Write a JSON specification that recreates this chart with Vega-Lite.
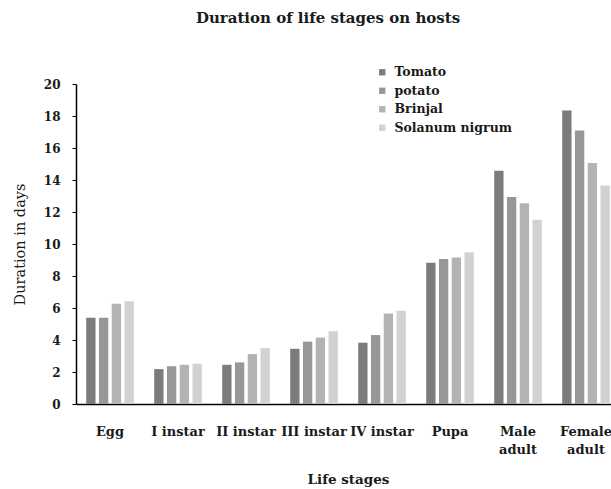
{
  "$schema": "https://vega.github.io/schema/vega-lite/v6.json",
  "autosize": "none",
  "width": 544,
  "height": 320,
  "padding": {"left": 76, "top": 84, "right": 0, "bottom": 85},
  "background": "white",
  "title": {
    "text": "Duration of life stages on hosts",
    "font": "DejaVu Serif",
    "fontSize": 15,
    "fontWeight": "bold",
    "color": "#1a1a1a",
    "anchor": "middle",
    "dx": -20,
    "offset": 40
  },
  "data": {
    "values": [
      {"stage": "Egg", "host": "Tomato", "days": 5.39},
      {"stage": "Egg", "host": "potato", "days": 5.39},
      {"stage": "Egg", "host": "Brinjal", "days": 6.26},
      {"stage": "Egg", "host": "Solanum nigrum", "days": 6.42},
      {"stage": "I instar", "host": "Tomato", "days": 2.18},
      {"stage": "I instar", "host": "potato", "days": 2.36},
      {"stage": "I instar", "host": "Brinjal", "days": 2.45},
      {"stage": "I instar", "host": "Solanum nigrum", "days": 2.52},
      {"stage": "II instar", "host": "Tomato", "days": 2.45},
      {"stage": "II instar", "host": "potato", "days": 2.6},
      {"stage": "II instar", "host": "Brinjal", "days": 3.12},
      {"stage": "II instar", "host": "Solanum nigrum", "days": 3.49},
      {"stage": "III instar", "host": "Tomato", "days": 3.45},
      {"stage": "III instar", "host": "potato", "days": 3.9},
      {"stage": "III instar", "host": "Brinjal", "days": 4.15},
      {"stage": "III instar", "host": "Solanum nigrum", "days": 4.55},
      {"stage": "IV instar", "host": "Tomato", "days": 3.83},
      {"stage": "IV instar", "host": "potato", "days": 4.31},
      {"stage": "IV instar", "host": "Brinjal", "days": 5.65},
      {"stage": "IV instar", "host": "Solanum nigrum", "days": 5.83},
      {"stage": "Pupa", "host": "Tomato", "days": 8.83},
      {"stage": "Pupa", "host": "potato", "days": 9.06},
      {"stage": "Pupa", "host": "Brinjal", "days": 9.15},
      {"stage": "Pupa", "host": "Solanum nigrum", "days": 9.48},
      {"stage": "Male adult", "host": "Tomato", "days": 14.58},
      {"stage": "Male adult", "host": "potato", "days": 12.94},
      {"stage": "Male adult", "host": "Brinjal", "days": 12.54},
      {"stage": "Male adult", "host": "Solanum nigrum", "days": 11.52},
      {"stage": "Female adult", "host": "Tomato", "days": 18.35},
      {"stage": "Female adult", "host": "potato", "days": 17.1},
      {"stage": "Female adult", "host": "Brinjal", "days": 15.06},
      {"stage": "Female adult", "host": "Solanum nigrum", "days": 13.65}
    ]
  },
  "mark": {"type": "bar"},
  "encoding": {
    "x": {
      "field": "stage",
      "type": "nominal",
      "sort": ["Egg", "I instar", "II instar", "III instar", "IV instar", "Pupa", "Male adult", "Female adult"],
      "scale": {"paddingInner": 0.3, "paddingOuter": 0.15},
      "axis": {
        "title": "Life stages",
        "titleFont": "DejaVu Serif",
        "titleFontSize": 13.5,
        "titleFontWeight": "bold",
        "titleColor": "#1a1a1a",
        "titlePadding": 16,
        "labelAngle": 0,
        "labelFont": "DejaVu Serif",
        "labelFontSize": 13,
        "labelFontWeight": "bold",
        "labelColor": "#1a1a1a",
        "labelPadding": 21,
        "labelLineHeight": 18,
        "labelExpr": "datum.label == 'Male adult' ? ['Male', 'adult'] : datum.label == 'Female adult' ? ['Female', 'adult'] : datum.label",
        "ticks": false,
        "domainColor": "#000000",
        "domainWidth": 1.5
      }
    },
    "xOffset": {
      "field": "host",
      "type": "nominal",
      "sort": ["Tomato", "potato", "Brinjal", "Solanum nigrum"],
      "scale": {"paddingInner": 0.27}
    },
    "y": {
      "field": "days",
      "type": "quantitative",
      "scale": {"domain": [0, 20], "nice": false},
      "axis": {
        "title": "Duration in days",
        "titleFont": "DejaVu Serif",
        "titleFontSize": 14.5,
        "titleFontWeight": "normal",
        "titleColor": "#1a1a1a",
        "titlePadding": 16,
        "values": [0, 2, 4, 6, 8, 10, 12, 14, 16, 18, 20],
        "labelFont": "DejaVu Serif",
        "labelFontSize": 12,
        "labelFontWeight": "bold",
        "labelColor": "#1a1a1a",
        "labelPadding": 12,
        "tickSize": 4,
        "tickColor": "#000000",
        "domainColor": "#000000",
        "domainWidth": 1.5,
        "grid": false
      }
    },
    "color": {
      "field": "host",
      "type": "nominal",
      "sort": ["Tomato", "potato", "Brinjal", "Solanum nigrum"],
      "scale": {
        "domain": ["Tomato", "potato", "Brinjal", "Solanum nigrum"],
        "range": ["#7b7b7b", "#979797", "#b3b3b3", "#d2d2d2"]
      },
      "legend": {
        "title": null,
        "orient": "none",
        "legendX": 300,
        "legendY": -18,
        "padding": 0,
        "symbolType": "square",
        "symbolSize": 40,
        "symbolStrokeWidth": 0,
        "labelFont": "DejaVu Serif",
        "labelFontSize": 12.5,
        "labelFontWeight": "bold",
        "labelColor": "#1a1a1a",
        "labelOffset": 6,
        "rowPadding": 5.5
      }
    }
  },
  "config": {
    "view": {"stroke": null}
  }
}
